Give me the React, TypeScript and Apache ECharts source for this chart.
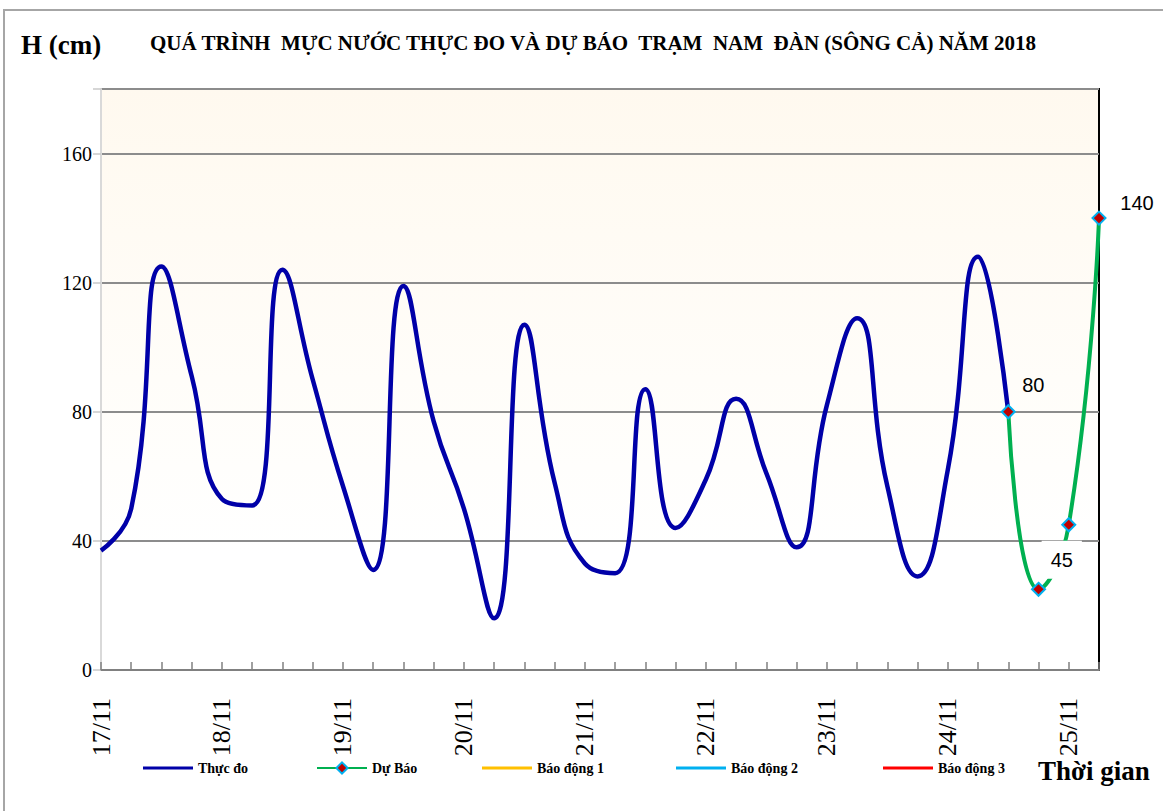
import React, { useEffect, useRef } from 'react';
import * as echarts from 'echarts';

const days = ['17/11', '18/11', '19/11', '20/11', '21/11', '22/11', '23/11', '24/11', '25/11'];
const hours = ['00h', '06h', '12h', '18h'];
const categories: string[] = [];
days.forEach((d, i) => hours.forEach((h, j) => { if (i < days.length - 1 || j < 2) categories.push(d + ' ' + h); }));

// Thực đo (measured), every 6 hours from 17/11 00h
const observed = [37, 50, 125, 91, 53, 51, 124, 90, 57, 31, 119, 77, 50, 16, 107, 58, 33, 30, 87, 44, 59, 84, 61, 38, 82, 109, 57, 29, 62, 128, 80];
// Dự Báo (forecast), starting at the last measured point
const forecast = [80, 25, 45, 140];
const forecastStart = 30;

const yTicks = [0, 40, 80, 120, 160];
const legendNames = ['Thực đo', 'Dự Báo', 'Báo động 1', 'Báo động 2', 'Báo động 3'];
const legendColors = ['#0000A8', '#00B050', '#FFC000', '#00B0F0', '#FF0000'];

const SERIF = 'Liberation Serif';
const SANS = 'Liberation Sans';

export default function App() {
  const ref = useRef<HTMLDivElement>(null);
  useEffect(() => {
    if (!ref.current) return;
    const chart = echarts.init(ref.current, undefined, { renderer: 'svg' });
    const labelCfg: any[] = [
      { show: true, position: 'inside', offset: [25, -27] },
      { show: false },
      { show: true, position: 'inside', offset: [-7, 35], backgroundColor: '#ffffff', padding: [9, 9] },
      { show: true, position: 'inside', offset: [38, -15] },
    ];
    const forecastData: any[] = categories.map((_, i) => {
      if (i < forecastStart) return '-';
      const k = i - forecastStart;
      return { value: forecast[k], label: { ...labelCfg[k], color: '#000', fontSize: 20, fontFamily: SANS } };
    });
    const legendLefts = [143, 316, 482, 676, 883];
    const option: any = {
      animation: false,
      backgroundColor: '#ffffff',
      grid: {
        left: 101, right: 64, top: 89, bottom: 141, show: true, borderWidth: 0,
        backgroundColor: new echarts.graphic.LinearGradient(0, 0, 0, 1, [
          { offset: 0, color: '#FFF9EF' },
          { offset: 0.5, color: '#FFFDF9' },
          { offset: 0.8, color: '#FFFFFF' },
          { offset: 1, color: '#FFFFFF' },
        ]),
      },
      title: {
        text: 'QUÁ TRÌNH  MỰC NƯỚC THỰC ĐO VÀ DỰ BÁO  TRẠM  NAM  ĐÀN (SÔNG CẢ) NĂM 2018',
        left: 145, top: 27,
        textStyle: { fontFamily: SERIF, fontWeight: 'bold', fontSize: 21, color: '#000' },
      },
      legend: legendNames.map((n, i) => ({
        data: [i === 1 ? { name: n } : { name: n, icon: 'rect' }],
        left: legendLefts[i] - 5, top: 756, itemWidth: 50, itemHeight: i === 1 ? 14 : 3, itemGap: 0,
        textStyle: { fontFamily: SERIF, fontWeight: 'bold', fontSize: 14, color: '#000' },
      })),
      xAxis: {
        type: 'category', data: categories, boundaryGap: false,
        axisLine: { lineStyle: { color: '#808080', width: 2 } },
        axisTick: { show: true, inside: true, length: 8, interval: 0, lineStyle: { color: '#808080', width: 1.5 } },
        axisLabel: {
          interval: 3, rotate: 90, margin: 28, fontFamily: SERIF, fontSize: 26, color: '#000',
          formatter: (v: string) => v.split(' ')[0],
        },
        splitLine: { show: false },
      },
      yAxis: {
        type: 'value', min: 0, max: 180, interval: 40,
        axisLine: { show: true, lineStyle: { color: '#D9D9D9', width: 2 } },
        axisTick: { show: true, length: 8, lineStyle: { color: '#C8C8C8', width: 1.5 } },
        axisLabel: {
          fontFamily: SERIF, fontSize: 20, color: '#000', margin: 9,
          formatter: (v: number) => (yTicks.includes(v) ? String(v) : ''),
        },
        splitLine: { lineStyle: { color: '#8C8C8C', width: 2 } },
      },
      graphic: [
        { type: 'rect', shape: { x: 4, y: 10, width: 1180, height: 830 }, style: { fill: 'none', stroke: '#A6A6A6', lineWidth: 2 }, silent: true },
        { type: 'line', shape: { x1: 101, y1: 89, x2: 1100, y2: 89 }, style: { stroke: '#000', lineWidth: 2 } },
        { type: 'line', shape: { x1: 1099, y1: 89, x2: 1099, y2: 671 }, style: { stroke: '#000', lineWidth: 2 } },
        { type: 'text', left: 21, top: 31, style: { text: 'H (cm)', font: 'bold 27px "Liberation Serif"', fill: '#000' } },
        { type: 'text', left: 1038, top: 757, style: { text: 'Thời gian', font: 'bold 27px "Liberation Serif"', fill: '#000' } },
      ],
      series: [
        {
          name: legendNames[0], type: 'line', data: observed, smooth: 0.5, symbol: 'none', z: 3,
          lineStyle: { color: legendColors[0], width: 4.5 }, itemStyle: { color: legendColors[0] },
        },
        {
          name: legendNames[1], type: 'line', data: forecastData, smooth: 0.5, symbol: 'diamond', symbolSize: 13, z: 4,
          lineStyle: { color: legendColors[1], width: 4 },
          itemStyle: { color: '#C00000', borderColor: '#00B0F0', borderWidth: 2 },
        },
        ...[2, 3, 4].map((k) => ({
          name: legendNames[k], type: 'line', data: [], symbol: 'none',
          lineStyle: { color: legendColors[k], width: 3 }, itemStyle: { color: legendColors[k] },
        })),
      ],
    };
    chart.setOption(option);
    return () => chart.dispose();
  }, []);
  return <div ref={ref} style={{ width: 1163, height: 811, position: 'absolute', left: 0, top: 0 }} />;
}
